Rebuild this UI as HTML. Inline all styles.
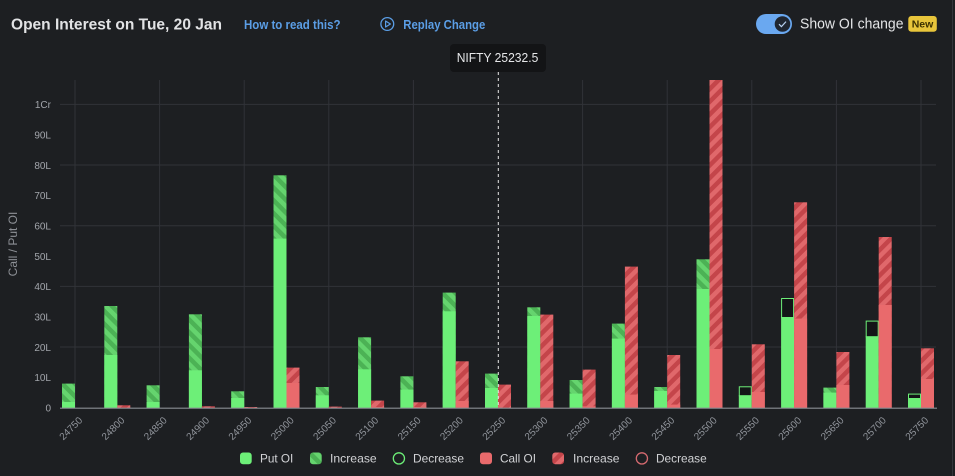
<!DOCTYPE html>
<html>
<head>
<meta charset="utf-8">
<style>
html,body{margin:0;padding:0;background:#1d1f22;}
svg{display:block;}
text{font-family:"Liberation Sans",sans-serif;}
</style>
</head>
<body>
<svg width="955" height="476" viewBox="0 0 955 476" xmlns="http://www.w3.org/2000/svg">
<defs>
  <pattern id="gh" width="9" height="9" patternUnits="userSpaceOnUse" patternTransform="rotate(-45)">
    <rect width="9" height="9" fill="#4cb255"/>
    <rect width="4.5" height="9" fill="#65d46e"/>
  </pattern>
  <pattern id="rh" width="9" height="9" patternUnits="userSpaceOnUse" patternTransform="rotate(45)">
    <rect width="9" height="9" fill="#c4454a"/>
    <rect width="4.5" height="9" fill="#e0686b"/>
  </pattern>
  <clipPath id="plot"><rect x="60" y="80" width="880" height="329"/></clipPath>
</defs>
<rect width="955" height="476" fill="#1d1f22"/>
<line x1="952.5" y1="0" x2="952.5" y2="476" stroke="#33363b" stroke-width="1"/>

<!-- Header -->
<text x="11" y="29.3" font-size="16" font-weight="bold" fill="#e2e3e5" textLength="211" lengthAdjust="spacingAndGlyphs">Open Interest on Tue, 20 Jan</text>
<text x="244" y="29" font-size="12.5" font-weight="bold" fill="#5b9ee6" textLength="96.5" lengthAdjust="spacingAndGlyphs">How to read this?</text>
<circle cx="387.3" cy="24" r="6.4" fill="none" stroke="#5b9ee6" stroke-width="1.3"/>
<path d="M385.6 21 L385.6 27 L390.4 24 Z" fill="none" stroke="#5b9ee6" stroke-width="1.2" stroke-linejoin="round"/>
<text x="403.3" y="29" font-size="12.5" font-weight="bold" fill="#5b9ee6" textLength="82" lengthAdjust="spacingAndGlyphs">Replay Change</text>

<rect x="756" y="14" width="36" height="20" rx="10" fill="#6aa8f0"/>
<circle cx="782.5" cy="24" r="8.3" fill="#1f2631" stroke="#6aa8f0" stroke-width="1"/>
<path d="M779 24.2 L781.4 26.6 L786 21.6" fill="none" stroke="#b9d3f3" stroke-width="1.2"/>
<text x="800" y="28.5" font-size="14.5" fill="#e4e5e7" textLength="103.5" lengthAdjust="spacingAndGlyphs">Show OI change</text>
<rect x="908.3" y="16" width="28.5" height="15.7" rx="3" fill="#e8c53b"/>
<text x="922.5" y="27.6" font-size="10.5" font-weight="bold" fill="#3b3000" text-anchor="middle">New</text>

<!-- Grid -->
<g stroke="#313338" stroke-width="1">
  <line x1="60" y1="104.4" x2="936" y2="104.4"/>
  <line x1="60" y1="165" x2="936" y2="165"/>
  <line x1="60" y1="225.7" x2="936" y2="225.7"/>
  <line x1="60" y1="286.4" x2="936" y2="286.4"/>
  <line x1="60" y1="347" x2="936" y2="347"/>
  <line x1="75" y1="80" x2="75" y2="408"/>
  <line x1="159.6" y1="80" x2="159.6" y2="408"/>
  <line x1="244.2" y1="80" x2="244.2" y2="408"/>
  <line x1="328.8" y1="80" x2="328.8" y2="408"/>
  <line x1="413.4" y1="80" x2="413.4" y2="408"/>
  <line x1="582.6" y1="80" x2="582.6" y2="408"/>
  <line x1="667.2" y1="80" x2="667.2" y2="408"/>
  <line x1="751.8" y1="80" x2="751.8" y2="408"/>
  <line x1="836.4" y1="80" x2="836.4" y2="408"/>
  <line x1="921" y1="80" x2="921" y2="408"/>
</g>

<!-- Y axis labels -->
<g font-size="10" fill="#a2a5ab" text-anchor="end">
  <text x="51" y="411.5">0</text>
  <text x="51" y="381.2">10L</text>
  <text x="51" y="350.8">20L</text>
  <text x="51" y="320.5">30L</text>
  <text x="51" y="290.2">40L</text>
  <text x="51" y="259.8">50L</text>
  <text x="51" y="229.5">60L</text>
  <text x="51" y="199.2">70L</text>
  <text x="51" y="168.8">80L</text>
  <text x="51" y="138.5">90L</text>
  <text x="51" y="108.2">1Cr</text>
</g>
<text transform="translate(17,244) rotate(-90)" font-size="12" fill="#8d9096" text-anchor="middle">Call / Put OI</text>

<!-- Bars -->
<g clip-path="url(#plot)">
<g fill="url(#gh)">
  <rect x="62" y="383.6" width="13" height="24.4"/>
  <rect x="104.3" y="306" width="13" height="102"/>
  <rect x="146.6" y="385.3" width="13" height="22.7"/>
  <rect x="188.9" y="314.3" width="13" height="93.7"/>
  <rect x="231.2" y="391.3" width="13" height="16.7"/>
  <rect x="273.5" y="175.3" width="13" height="232.7"/>
  <rect x="315.8" y="387" width="13" height="21"/>
  <rect x="358.1" y="337.3" width="13" height="70.7"/>
  <rect x="400.4" y="376.3" width="13" height="31.7"/>
  <rect x="442.7" y="292.6" width="13" height="115.4"/>
  <rect x="485" y="373.6" width="13" height="34.4"/>
  <rect x="527.3" y="307.3" width="13" height="100.7"/>
  <rect x="569.6" y="380" width="13" height="28"/>
  <rect x="611.9" y="323.6" width="13" height="84.4"/>
  <rect x="654.2" y="387" width="13" height="21"/>
  <rect x="696.5" y="259.3" width="13" height="148.7"/>
  <rect x="823.4" y="387.6" width="13" height="20.4"/>
</g>
<g fill="#131517" stroke="#6def78" stroke-width="1">
  <rect x="739.3" y="386.8" width="12" height="9"/>
  <rect x="781.6" y="298.5" width="12" height="19"/>
  <rect x="866.2" y="321.1" width="12" height="15.7"/>
  <rect x="908.5" y="394.1" width="12" height="4.4"/>
</g>
<g fill="#6def78">
  <rect x="62" y="402" width="13" height="6"/>
  <rect x="104.3" y="355" width="13" height="53"/>
  <rect x="146.6" y="402" width="13" height="6"/>
  <rect x="188.9" y="370.3" width="13" height="37.7"/>
  <rect x="231.2" y="398" width="13" height="10"/>
  <rect x="273.5" y="238.6" width="13" height="169.4"/>
  <rect x="315.8" y="395.3" width="13" height="12.7"/>
  <rect x="358.1" y="369.3" width="13" height="38.7"/>
  <rect x="400.4" y="389.6" width="13" height="18.4"/>
  <rect x="442.7" y="311.3" width="13" height="96.7"/>
  <rect x="485" y="388" width="13" height="20"/>
  <rect x="527.3" y="316" width="13" height="92"/>
  <rect x="569.6" y="393.6" width="13" height="14.4"/>
  <rect x="611.9" y="338.6" width="13" height="69.4"/>
  <rect x="654.2" y="391" width="13" height="17"/>
  <rect x="696.5" y="289" width="13" height="119"/>
  <rect x="738.8" y="395.3" width="13" height="12.7"/>
  <rect x="781.1" y="317" width="13" height="91"/>
  <rect x="823.4" y="392.6" width="13" height="15.4"/>
  <rect x="865.7" y="336.3" width="13" height="71.7"/>
  <rect x="908" y="398" width="13" height="10"/>
</g>
<g fill="url(#rh)">
  <rect x="117.3" y="405.3" width="13" height="2.7"/>
  <rect x="201.9" y="406.3" width="13" height="1.7"/>
  <rect x="244.2" y="407" width="13" height="1"/>
  <rect x="286.5" y="367.6" width="13" height="40.4"/>
  <rect x="328.8" y="406.6" width="13" height="1.4"/>
  <rect x="371.1" y="400.6" width="13" height="7.4"/>
  <rect x="413.4" y="402.3" width="13" height="5.7"/>
  <rect x="455.7" y="361.3" width="13" height="46.7"/>
  <rect x="498" y="384.6" width="13" height="23.4"/>
  <rect x="540.3" y="314.6" width="13" height="93.4"/>
  <rect x="582.6" y="369.6" width="13" height="38.4"/>
  <rect x="624.9" y="266.6" width="13" height="141.4"/>
  <rect x="667.2" y="355" width="13" height="53"/>
  <rect x="709.5" y="80" width="13" height="328"/>
  <rect x="751.8" y="344.3" width="13" height="63.7"/>
  <rect x="794.1" y="202.3" width="13" height="205.7"/>
  <rect x="836.4" y="352" width="13" height="56"/>
  <rect x="878.7" y="237" width="13" height="171"/>
  <rect x="921" y="348.3" width="13" height="59.7"/>
</g>
<g fill="#e96a6c">
  <rect x="286.5" y="383" width="13" height="25"/>
  <rect x="371.1" y="407" width="13" height="1"/>
  <rect x="413.4" y="407" width="13" height="1"/>
  <rect x="455.7" y="401" width="13" height="7"/>
  <rect x="540.3" y="401" width="13" height="7"/>
  <rect x="582.6" y="406.3" width="13" height="1.7"/>
  <rect x="624.9" y="394.6" width="13" height="13.4"/>
  <rect x="667.2" y="404.6" width="13" height="3.4"/>
  <rect x="709.5" y="349" width="13" height="59"/>
  <rect x="751.8" y="392" width="13" height="16"/>
  <rect x="794.1" y="318.6" width="13" height="89.4"/>
  <rect x="836.4" y="385" width="13" height="23"/>
  <rect x="878.7" y="305" width="13" height="103"/>
  <rect x="921" y="379" width="13" height="29"/>
</g>
</g>

<line x1="60" y1="408.2" x2="937" y2="408.2" stroke="#8a8d93" stroke-width="1.2"/>

<line x1="498.3" y1="72" x2="498.3" y2="408" stroke="#e6e6e6" stroke-width="1" stroke-dasharray="3,3"/>
<rect x="450" y="44" width="96" height="28" rx="4" fill="#131416"/>
<text x="456.7" y="62" font-size="12.5" fill="#e6e7e9" textLength="81.6" lengthAdjust="spacingAndGlyphs">NIFTY 25232.5</text>

<g font-size="10" fill="#8f939a" text-anchor="end">
  <text transform="translate(83,421) rotate(-45)">24750</text>
  <text transform="translate(125.3,421) rotate(-45)">24800</text>
  <text transform="translate(167.6,421) rotate(-45)">24850</text>
  <text transform="translate(209.9,421) rotate(-45)">24900</text>
  <text transform="translate(252.2,421) rotate(-45)">24950</text>
  <text transform="translate(294.5,421) rotate(-45)">25000</text>
  <text transform="translate(336.8,421) rotate(-45)">25050</text>
  <text transform="translate(379.1,421) rotate(-45)">25100</text>
  <text transform="translate(421.4,421) rotate(-45)">25150</text>
  <text transform="translate(463.7,421) rotate(-45)">25200</text>
  <text transform="translate(506,421) rotate(-45)">25250</text>
  <text transform="translate(548.3,421) rotate(-45)">25300</text>
  <text transform="translate(590.6,421) rotate(-45)">25350</text>
  <text transform="translate(632.9,421) rotate(-45)">25400</text>
  <text transform="translate(675.2,421) rotate(-45)">25450</text>
  <text transform="translate(717.5,421) rotate(-45)">25500</text>
  <text transform="translate(759.8,421) rotate(-45)">25550</text>
  <text transform="translate(802.1,421) rotate(-45)">25600</text>
  <text transform="translate(844.4,421) rotate(-45)">25650</text>
  <text transform="translate(886.7,421) rotate(-45)">25700</text>
  <text transform="translate(929,421) rotate(-45)">25750</text>
</g>

<rect x="240" y="452.5" width="11.7" height="11.7" rx="3" fill="#6def78"/>
<text x="260" y="462.3" font-size="12" fill="#d2d3d6" textLength="33.3" lengthAdjust="spacingAndGlyphs">Put OI</text>
<rect x="310" y="452.5" width="11.7" height="11.7" rx="3" fill="url(#gh)"/>
<text x="330" y="462.3" font-size="12" fill="#d2d3d6" textLength="46.7" lengthAdjust="spacingAndGlyphs">Increase</text>
<circle cx="398.9" cy="458.4" r="5.6" fill="none" stroke="#6def78" stroke-width="1.3"/>
<text x="413" y="462.3" font-size="12" fill="#d2d3d6" textLength="51" lengthAdjust="spacingAndGlyphs">Decrease</text>
<rect x="480" y="452.5" width="12" height="11.7" rx="3" fill="#e96a6c"/>
<text x="500" y="462.3" font-size="12" fill="#d2d3d6" textLength="36" lengthAdjust="spacingAndGlyphs">Call OI</text>
<rect x="552.3" y="452.5" width="11.7" height="11.7" rx="3" fill="url(#rh)"/>
<text x="573" y="462.3" font-size="12" fill="#d2d3d6" textLength="46.5" lengthAdjust="spacingAndGlyphs">Increase</text>
<circle cx="641.9" cy="458.4" r="5.6" fill="none" stroke="#d66a70" stroke-width="1.3"/>
<text x="656" y="462.3" font-size="12" fill="#d2d3d6" textLength="50.7" lengthAdjust="spacingAndGlyphs">Decrease</text>
</svg>
</body>
</html>
